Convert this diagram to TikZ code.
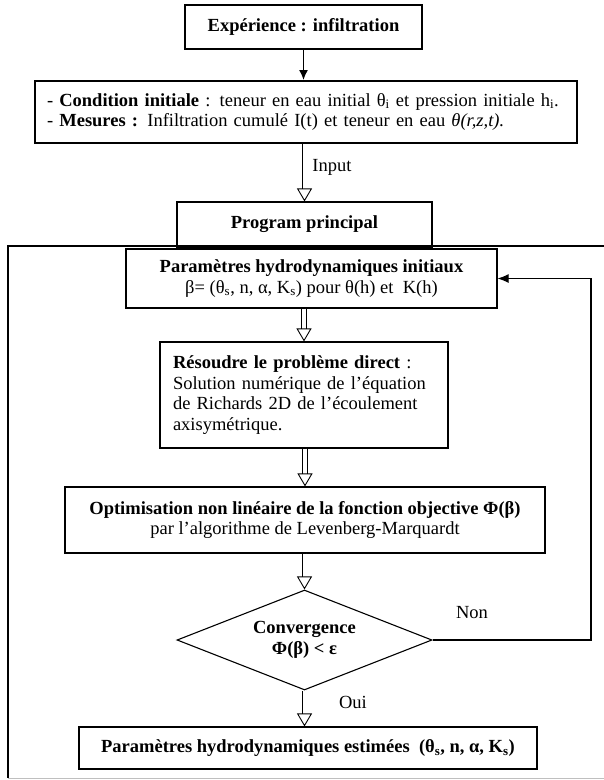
\documentclass[tikz,border=0pt]{standalone}
\usepackage{fontspec}
\setmainfont{Liberation Serif}
\usetikzlibrary{arrows.meta,shapes.geometric}
\begin{document}
\begin{tikzpicture}[x=1pt,y=-1pt,
    font=\fontsize{18.5}{20.5}\selectfont,
    box/.style={draw,line width=1.1pt,inner sep=0pt},
    thickbox/.style={draw,line width=2pt,inner sep=0pt},
    hollow/.style={double,double distance=4pt,line width=0.9pt,
      -{Triangle[open,length=13pt,width=15pt]}}]
  \useasboundingbox (0,0) rectangle (604,780);
  % outer frame of the program
  \draw [line width=2.2pt] (606,246) -| (8,778);
  \draw [gray!50,line width=0.8pt] (8,778) -- (606,778);

  \node [thickbox,minimum width=237,minimum height=44] (exp) at (303.5,26.5)
    {\textbf{Expérience : infiltration}};
  \node [thickbox,minimum width=542,minimum height=62,text width=518,align=left] (cond) at (306,112)
    {- \textbf{Condition initiale} : teneur en eau initial θ\textsubscript{i} et pression initiale h\textsubscript{i}.\\
     - \textbf{Mesures :} Infiltration cumulé I(t) et teneur en eau \textit{θ(r,z,t).}};
  \node [box,minimum width=255,minimum height=45] (prog) at (304.5,224.5)
    {\textbf{Program principal}};
  \node [box,minimum width=371,minimum height=59,align=center] (param) at (311.5,278.5)
    {\textbf{Paramètres hydrodynamiques initiaux}\\
     β= (θ\textsubscript{s}, n, α, K\textsubscript{s}) pour θ(h) et~ K(h)};
  \node [box,minimum width=288,minimum height=106,text width=262,align=left] (res) at (304,395)
    {\textbf{Résoudre le problème direct} :\\
     Solution numérique de l’équation\\
     de Richards 2D de l’écoulement\\
     axisymétrique.};
  \node [box,minimum width=480,minimum height=66,align=center] (opt) at (305,520)
    {\textbf{Optimisation non linéaire de la fonction objective Φ(β)}\\
     par l’algorithme de Levenberg-Marquardt};
  \node [box,diamond,aspect=2.55,minimum width=255,minimum height=100,align=center] (conv) at (304.5,640)
    {\textbf{Convergence}\\ \textbf{Φ(β) < ε}};
  \node [box,minimum width=458,minimum height=42] (fin) at (308,748)
    {\textbf{Paramètres hydrodynamiques estimées~ (θ\textsubscript{s}, n, α, K\textsubscript{s})}};

  \node (input) at (332,167) {Input};
  \node (non) at (472,613) {Non};
  \node (oui) at (353,702) {Oui};
  \coordinate (back) at (591,640);

  \draw [line width=1.5pt,-{Latex[length=10pt,width=9pt]}] (exp.south) -- (exp.south |- cond.north);
  \draw [hollow] (prog.north |- cond.south) -- (prog.north);
  \draw [hollow] (res.north |- param.south) -- (res.north);
  \draw [hollow] (opt.north |- res.south) -- (opt.north);
  \draw [hollow] (opt.south -| conv.north) -- (conv.north);
  \draw [hollow] (conv.south) -- (conv.south |- fin.north);
  \draw [line width=1.1pt,-{Latex[length=11pt,width=9pt]}] (conv.east) -- (back) |- (param.east);
\end{tikzpicture}
\end{document}
